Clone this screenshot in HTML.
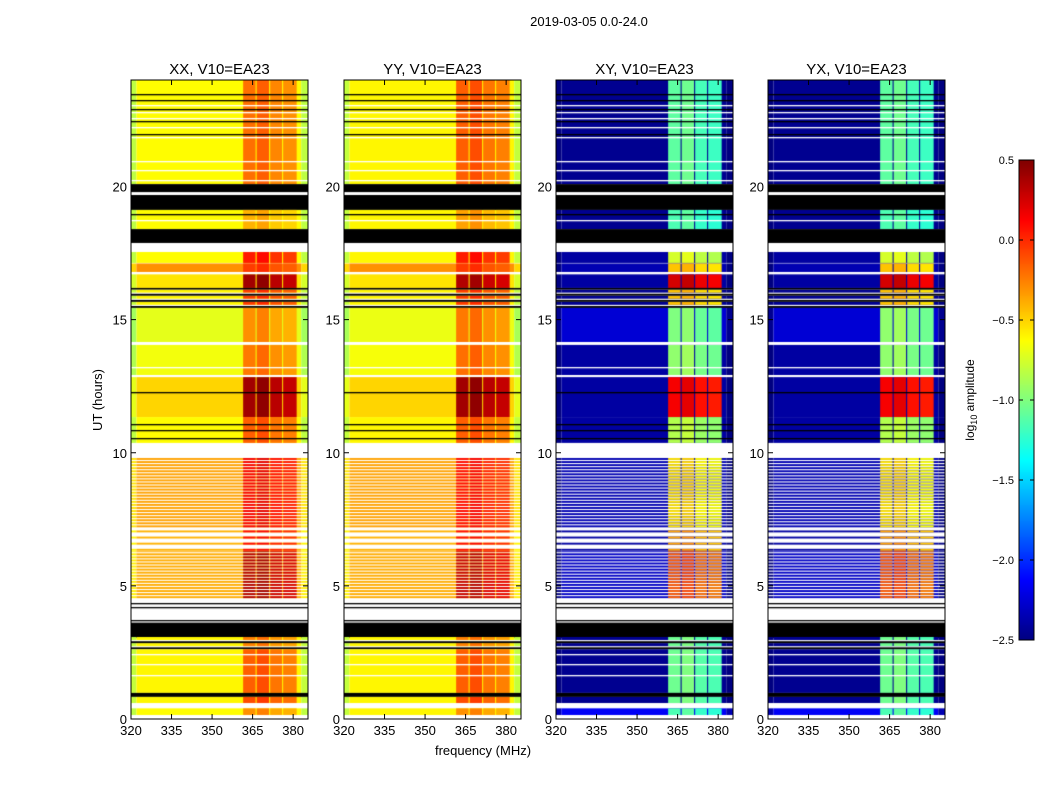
<!DOCTYPE html>
<html><head><meta charset="utf-8"><style>
body{margin:0;background:#fff;width:1050px;height:800px;overflow:hidden;font-family:"Liberation Sans",sans-serif;}
canvas{position:absolute;}
svg{position:absolute;left:0;top:0;}
</style></head><body>
<canvas id="c0" width="177" height="639" style="left:131px;top:80px"></canvas>
<canvas id="c1" width="177" height="639" style="left:344px;top:80px"></canvas>
<canvas id="c2" width="177" height="639" style="left:556px;top:80px"></canvas>
<canvas id="c3" width="177" height="639" style="left:768px;top:80px"></canvas>
<canvas id="cb" width="15" height="480" style="left:1019px;top:160px"></canvas>
<svg id="ov" width="1050" height="800"></svg>
<script>
// ---- data ----
const panelTitles = ["XX, V10=EA23","YY, V10=EA23","XY, V10=EA23","YX, V10=EA23"];
const xTicks = [320,335,350,365,380];
const yTicks = [0,5,10,15,20];
const cbTicks = [0.5,0.0,-0.5,-1.0,-1.5,-2.0,-2.5];
const cbTickLabels = ["0.5","0.0","\u22120.5","\u22121.0","\u22121.5","\u22122.0","\u22122.5"];
const subbandStart = [361.5,366.5,371.5,376.3];
const subbandEnd   = [366.1,371.1,375.9,381.3];
const subbandOffset = [0.05,0.1,-0.02,-0.05];
// time segments (hours): kind d=data k=black w=white s=striped data/white sw=sparse data in white sk=black stripes
const segStart = [20.09,19.79,19.68,19.12,18.40,17.88,17.54,17.13,16.79,16.19,15.44,14.16,12.92,11.34,10.37,9.88,7.20,6.32,4.54,3.70,3.04,2.62,0.98,0.83,0.60,0.40,0.15,0.00];
const segEnd   = [24.00,20.09,19.79,19.68,19.12,18.40,17.88,17.54,17.11,16.70,16.19,15.44,14.05,12.84,11.34,10.37,9.84,7.20,6.30,4.52,3.62,3.04,2.62,0.98,0.83,0.60,0.40,0.15];
const segKind  = ["d","k","w","k","d","k","w","d","d","d","sk","d","d","d","d","w","s","sw","s","w","k","sk","d","k","d","w","d","w"];
const xxBase = [-0.62,0,0,0,-0.62,0,0,-0.62,-0.3,-0.55,-0.6,-0.7,-0.66,-0.5,-0.62,0,-0.35,-0.4,-0.38,0,0,-0.6,-0.6,0,-0.6,0,-0.62,0];
const xxBand = [-0.25,0,0,0,-0.45,0,0,0.0,-0.1,0.35,-0.1,-0.35,-0.28,0.35,-0.2,0,0.1,0.05,0.3,0,0,-0.3,-0.2,0,-0.15,0,-0.35,0];
const yyBase = [-0.6,0,0,0,-0.6,0,0,-0.6,-0.3,-0.55,-0.6,-0.68,-0.65,-0.5,-0.6,0,-0.35,-0.4,-0.38,0,0,-0.6,-0.6,0,-0.6,0,-0.6,0];
const yyBand = [-0.2,0,0,0,-0.4,0,0,0.0,-0.1,0.3,-0.1,-0.28,-0.25,0.35,-0.2,0,0.05,0.05,0.25,0,0,-0.3,-0.2,0,-0.15,0,-0.35,0];
const xyBase = [-2.45,0,0,0,-2.45,0,0,-2.4,-2.35,-2.4,-2.45,-2.25,-2.4,-2.4,-2.4,0,-2.35,-2.4,-2.3,0,0,-2.45,-2.45,0,-2.45,0,-2.15,0];
const xyBand = [-1.15,0,0,0,-1.2,0,0,-0.8,-0.5,0.2,-0.5,-1.05,-1.0,0.1,-0.9,0,-0.6,-0.4,-0.2,0,0,-1.1,-1.1,0,-1.1,0,-1.2,0];
const yxBase = xyBase.slice();
const yxBand = [-1.15,0,0,0,-1.2,0,0,-0.8,-0.5,0.2,-0.5,-1.0,-1.0,0.1,-0.9,0,-0.6,-0.4,-0.2,0,0,-1.1,-1.1,0,-1.1,0,-1.2,0];
// thin flag lines
const lineHour = [23.47,23.25,23.06,22.91,22.80,22.57,22.46,22.23,21.97,21.86,20.96,20.62,20.24,18.98,18.75,13.22,12.28,11.09,10.85,10.55,4.36,4.2,3.7,2.46,2.06,1.66];
const lineKind = ["k","k","w","k","w","w","k","w","k","w","w","w","w","k","w","w","k","k","k","k","k","k","k","w","w","w"];

const panelBase=[xxBase,yyBase,xyBase,yxBase], panelBand=[xxBand,yyBand,xyBand,yxBand];
const X0=[131,344,556,768], PY=80, PW=177, PH=639, FMIN=320, FMAX=385.5, HMAX=24;
const xs=f=>(f-FMIN)/(FMAX-FMIN)*PW;
const ys=h=>PH-h/HMAX*PH;
function jet(v){
  let t=(v+2.5)/3; t=Math.max(0,Math.min(1,t));
  const r=Math.max(0,Math.min(1,1.5-Math.abs(4*t-3)));
  const g=Math.max(0,Math.min(1,1.5-Math.abs(4*t-2)));
  const b=Math.max(0,Math.min(1,1.5-Math.abs(4*t-1)));
  return `rgb(${Math.round(r*255)},${Math.round(g*255)},${Math.round(b*255)})`;
}
function drawRow(ctx,p,i,h0,h1){
  const y0=ys(h1), y1=ys(h0), base=panelBase[p][i], band=panelBand[p][i];
  ctx.fillStyle=jet(base-0.2); ctx.fillRect(0,y0,xs(322),y1-y0);
  ctx.fillStyle=jet(base); ctx.fillRect(xs(322),y0,xs(383)-xs(322),y1-y0);
  ctx.fillStyle=jet(base-0.2); ctx.fillRect(xs(383),y0,PW-xs(383),y1-y0);
  for(let s=0;s<subbandStart.length;s++){
    ctx.fillStyle=jet(band+subbandOffset[s]);
    ctx.fillRect(xs(subbandStart[s]),y0,xs(subbandEnd[s])-xs(subbandStart[s]),y1-y0);
  }
}
for(let p=0;p<4;p++){
  const ctx=document.getElementById('c'+p).getContext('2d');
  ctx.fillStyle='#fff';ctx.fillRect(0,0,PW,PH);
  for(let i=0;i<segStart.length;i++){
    const k=segKind[i], a=segStart[i], b=segEnd[i];
    if(k==='k'){ctx.fillStyle='#000';ctx.fillRect(0,ys(b),PW,ys(a)-ys(b));}
    else if(k==='w'){}
    else if(k==='d'){drawRow(ctx,p,i,a,b);}
    else{
      const pitch=0.115;
      for(let h=a,n=0;h<b;h+=pitch,n++){
        const h2=Math.min(b,h+pitch*0.62);
        if(k==='s'){drawRow(ctx,p,i,h,h2);}
        else if(k==='sw'){ if(n%2===0) drawRow(ctx,p,i,h,h2); }
        else if(k==='sk'){ if(n%2===0){ctx.fillStyle='#000';ctx.fillRect(0,ys(h2),PW,ys(h)-ys(h2));} else drawRow(ctx,p,i,h,h2+pitch*0.38);}
      }
    }
  }
  for(let j=0;j<lineHour.length;j++){
    ctx.fillStyle=lineKind[j]==='k'?'#000':'#fff';
    ctx.fillRect(0,Math.round(ys(lineHour[j])),PW,1.3);
  }
}
(function(){const c=document.getElementById('cb').getContext('2d');
 for(let y=0;y<480;y++){c.fillStyle=jet(0.5-y/480*3);c.fillRect(0,y,15,1);}})();
const NS='http://www.w3.org/2000/svg', ov=document.getElementById('ov');
function mk(tag,attrs,txt){const e=document.createElementNS(NS,tag);for(const k in attrs)e.setAttribute(k,attrs[k]);if(txt!==undefined)e.textContent=txt;ov.appendChild(e);return e;}
let t=mk('text',{x:589,y:26,'font-size':13,'text-anchor':'middle','font-family':'Liberation Sans'},'2019-03-05 0.0-24.0');


for(let p=0;p<4;p++){
  const x0=X0[p];
  let r=mk('rect',{x:x0,y:PY,width:PW,height:PH,fill:'none',stroke:'#000','stroke-width':1});
  
  
  let tt=mk('text',{x:x0+PW/2,y:74,'font-size':15,'text-anchor':'middle','font-family':'Liberation Sans'},panelTitles[p]);
  
  
  xTicks.forEach(v=>{const x=x0+xs(v);
    mk('line',{x1:x,x2:x,y1:PY+PH,y2:PY+PH-5,stroke:'#000'});
    mk('line',{x1:x,x2:x,y1:PY,y2:PY+5,stroke:'#000'});
    let l=mk('text',{x:x,y:735,'font-size':13,'text-anchor':'middle','font-family':'Liberation Sans'},String(v));
    
    
  });
  yTicks.forEach(v=>{const y=PY+ys(v);
    mk('line',{x1:x0,x2:x0+5,y1:y,y2:y,stroke:'#000'});
    mk('line',{x1:x0+PW,x2:x0+PW-5,y1:y,y2:y,stroke:'#000'});
    let l=mk('text',{x:x0-4,y:y+5,'font-size':13,'text-anchor':'end','font-family':'Liberation Sans'},String(v));
    
    
  });
}
let xl=mk('text',{x:483,y:755,'font-size':13,'text-anchor':'middle','font-family':'Liberation Sans'},'frequency (MHz)');


let yl=mk('text',{x:0,y:0,'font-size':13,'text-anchor':'middle','font-family':'Liberation Sans',transform:'translate(102,400) rotate(-90)'},'UT (hours)');


let cf=mk('rect',{x:1019,y:160,width:15,height:480,fill:'none',stroke:'#000'});


cbTicks.forEach((v,i)=>{const y=160+(0.5-v)/3*480;
  mk('line',{x1:1019,x2:1023,y1:y,y2:y,stroke:'#000'});
  mk('line',{x1:1030,x2:1034,y1:y,y2:y,stroke:'#000'});
  let l=mk('text',{x:1014,y:y+4,'font-size':11,'text-anchor':'end','font-family':'Liberation Sans'},cbTickLabels[i]);
  
  
});
let cl=mk('text',{x:0,y:0,'font-size':12,'text-anchor':'middle','font-family':'Liberation Sans',transform:'translate(974,400) rotate(-90)'});
cl.innerHTML='log<tspan font-size="9" dy="3">10</tspan><tspan dy="-3"> amplitude</tspan>';


</script>
</body></html>
